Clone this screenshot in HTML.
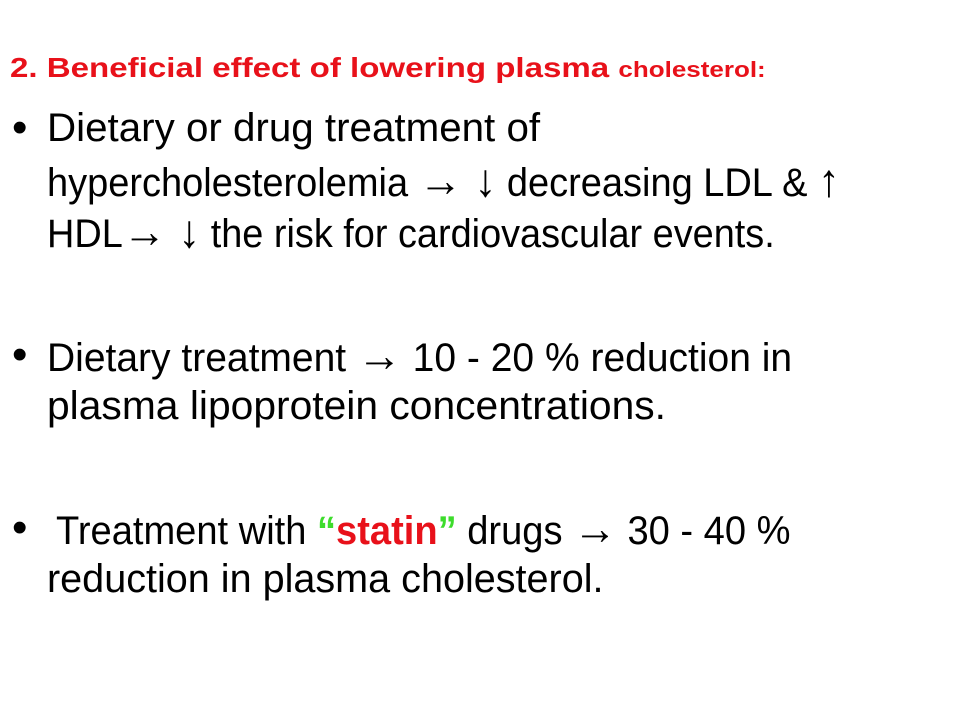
<!DOCTYPE html>
<html><head><meta charset="utf-8">
<style>
html,body{margin:0;padding:0;background:#fff;}
#slide{position:relative;width:960px;height:720px;overflow:hidden;background:#fff;font-family:"Liberation Sans",Arial,sans-serif;color:#000;}
.ln{position:absolute;white-space:nowrap;transform-origin:0 50%;line-height:44px;font-size:40px;}
.title{position:absolute;white-space:nowrap;transform-origin:0 50%;color:#e8111a;font-weight:bold;font-size:28px;line-height:30px;}
.bul{position:absolute;font-size:44px;line-height:44px;}
.red{color:#e8111a;font-weight:bold;}
.grn{color:#3ddc2c;font-weight:bold;}
.ar{font-size:46px;}
</style></head><body>
<div id="slide">
<div class="title" data-right="766" style="left:10px;top:53px;">2. Beneficial effect of lowering plasma <span style="font-size:22px">cholesterol:</span></div>

<div class="bul" style="left:12px;top:106px;">•</div>
<div class="ln" data-right="540" style="left:47px;top:106px;">Dietary or drug treatment of</div>
<div class="ln" data-right="840" style="left:47px;top:158px;">hypercholesterolemia <span class="ar">→ ↓</span> decreasing LDL &amp; <span class="ar">↑</span></div>
<div class="ln" data-right="775" style="left:47px;top:209px;">HDL<span class="ar">→ ↓</span> the risk for cardiovascular events.</div>

<div class="bul" style="left:12px;top:333px;">•</div>
<div class="ln" data-right="792" style="left:47px;top:333px;">Dietary treatment <span class="ar">→</span> 10 - 20 % reduction in</div>
<div class="ln" data-right="666" style="left:47px;top:384px;">plasma lipoprotein concentrations.</div>

<div class="bul" style="left:12px;top:506px;">•</div>
<div class="ln" data-right="790" style="left:56px;top:506px;">Treatment with <span class="grn">“</span><span class="red">statin</span><span class="grn">”</span> drugs <span class="ar">→</span> 30 - 40 %</div>
<div class="ln" data-right="604" style="left:47px;top:557px;">reduction in plasma cholesterol.</div>
</div>
<script>
document.querySelectorAll('[data-right]').forEach(function(el){
  var left=parseFloat(el.style.left);
  var target=parseFloat(el.getAttribute('data-right'))-left;
  var w=el.scrollWidth;
  if(w>0){el.style.transform='scaleX('+(target/w)+')';}
});
</script>
</body></html>
